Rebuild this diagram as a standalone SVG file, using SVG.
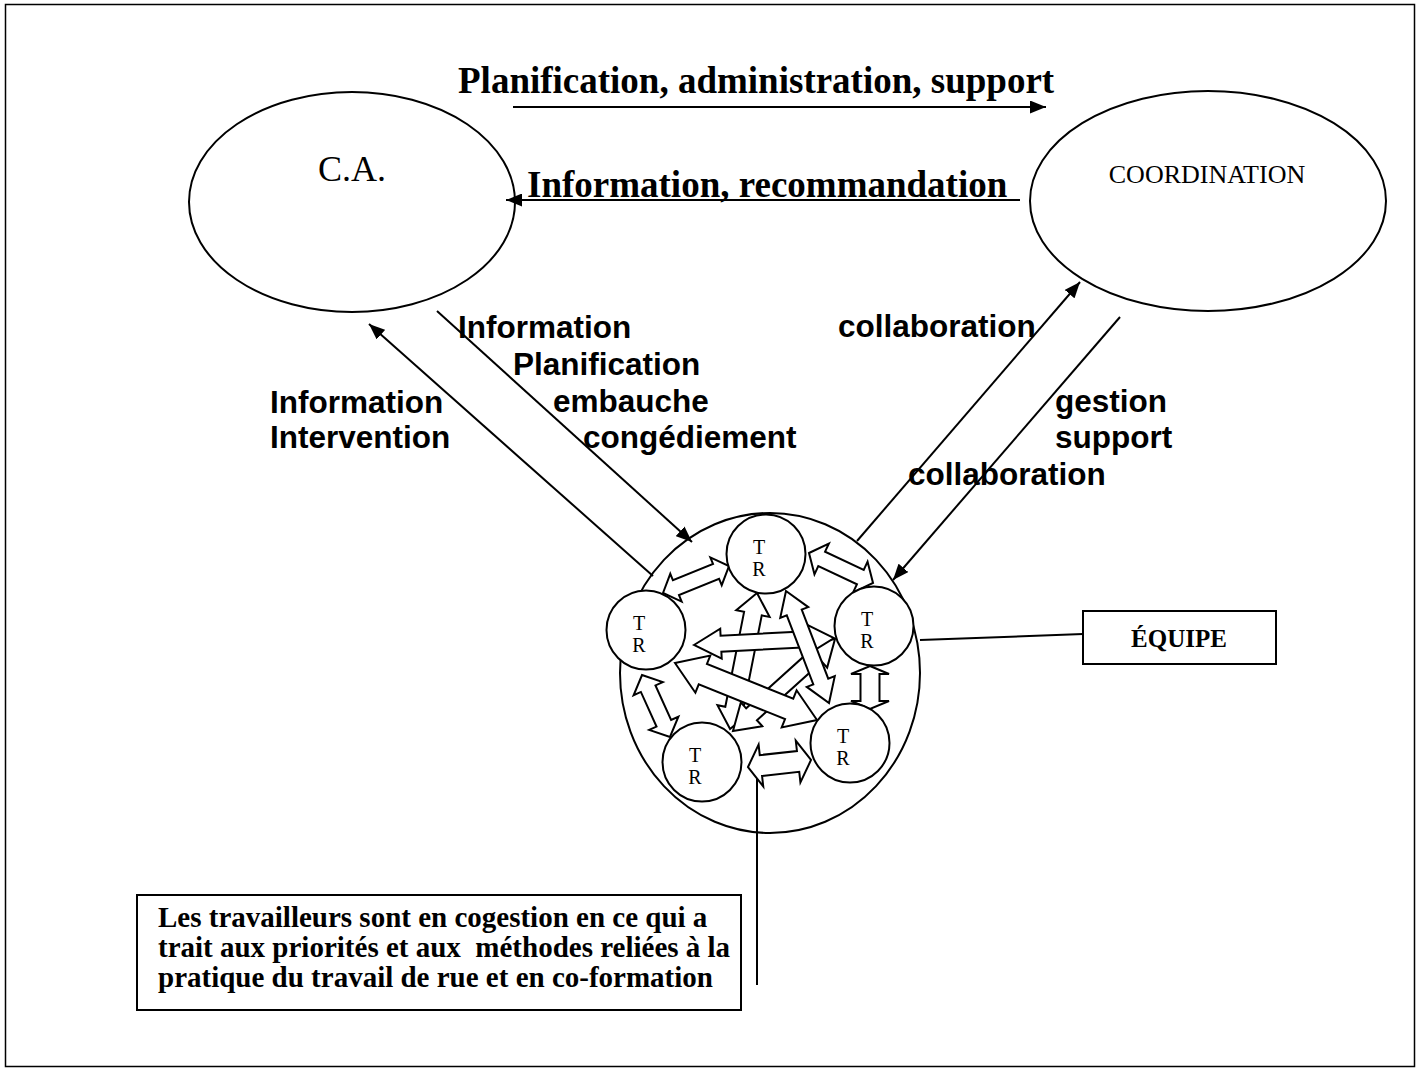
<svg xmlns="http://www.w3.org/2000/svg" width="1420" height="1070" viewBox="0 0 1420 1070">
<defs>
<style>
.ln{stroke:#000;stroke-width:2;fill:none}
.ell{stroke:#000;stroke-width:2;fill:#fff}
.tr{stroke:#000;stroke-width:2;fill:#fff}
.ba{stroke:#000;stroke-width:2;fill:#fff;stroke-linejoin:miter}
.serif{font-family:"Liberation Serif","Times New Roman",serif;fill:#000}
.sans{font-family:"Liberation Sans",Arial,sans-serif;font-weight:bold;fill:#000}
.big{font-size:37px;font-weight:bold}
.lbl{font-size:31.5px}
.trt{font-size:20px;text-anchor:middle}
.note{font-size:29px;font-weight:bold}
</style>
<marker id="ah" markerUnits="userSpaceOnUse" markerWidth="17" markerHeight="13" refX="16" refY="6.5" orient="auto"><path d="M0,0 L16,6.5 L0,13 Z" fill="#000"/></marker>
</defs>
<rect x="0" y="0" width="1420" height="1070" fill="#fff"/>
<rect x="5.5" y="4.5" width="1409" height="1062" fill="none" stroke="#000" stroke-width="1.5"/>

<g id="node-ca">
<ellipse class="ell" cx="352" cy="202" rx="163" ry="110"/>
<text class="serif" x="352" y="181" font-size="36" text-anchor="middle">C.A.</text>
</g>
<g id="node-coordination">
<ellipse class="ell" cx="1208" cy="201" rx="178" ry="110"/>
<text class="serif" x="1207" y="183" font-size="26" text-anchor="middle">COORDINATION</text>
</g>
<g id="node-equipe-circle">
<ellipse class="ell" cx="770" cy="673" rx="150" ry="160"/>
</g>
<g id="node-equipe-label">
<rect x="1083" y="611" width="193" height="53" fill="#fff" stroke="#000" stroke-width="2"/>
<text class="serif" x="1179" y="647" font-size="25" font-weight="bold" text-anchor="middle">ÉQUIPE</text>
</g>
<g id="node-note">
<rect x="137" y="895" width="604" height="115" fill="#fff" stroke="#000" stroke-width="2"/>
<text class="serif note" x="158" y="927">Les travailleurs sont en cogestion en ce qui a</text>
<text class="serif note" x="158" y="957" xml:space="preserve">trait aux priorités et aux  méthodes reliées à la</text>
<text class="serif note" x="158" y="987">pratique du travail de rue et en co-formation</text>
</g>

<g id="connectors">
<line class="ln" x1="513" y1="107" x2="1046" y2="107" marker-end="url(#ah)"/>
<line class="ln" x1="1020" y1="200" x2="506" y2="200" marker-end="url(#ah)"/>
<line class="ln" x1="653" y1="576" x2="369" y2="324" marker-end="url(#ah)"/>
<line class="ln" x1="437" y1="311" x2="692" y2="542" marker-end="url(#ah)"/>
<line class="ln" x1="857" y1="541" x2="1080" y2="282" marker-end="url(#ah)"/>
<line class="ln" x1="1120" y1="317" x2="893" y2="580" marker-end="url(#ah)"/>
<line class="ln" x1="920" y1="640" x2="1083" y2="634"/>
<line class="ln" x1="757" y1="985" x2="757" y2="762"/>
<g id="team-arrows">
<path class="ba" transform="translate(663,593) rotate(-22.25)" d="M0,0 L14,-15 L14,-8 L57.3,-8 L57.3,-15 L71.3,0 L57.3,15 L57.3,8 L14,8 L14,15 Z"/>
<path class="ba" transform="translate(809,553) rotate(25.1)" d="M0,0 L14,-17 L14,-8 L56.7,-8 L56.7,-17 L70.7,0 L56.7,17 L56.7,8 L14,8 L14,17 Z"/>
<path class="ba" transform="translate(870,666) rotate(90)" d="M0,0 L8,-19 L8,-9.5 L35,-9.5 L35,-19 L43,0 L35,19 L35,9.5 L8,9.5 L8,19 Z"/>
<path class="ba" transform="translate(642,675) rotate(65.7)" d="M0,0 L15,-16 L15,-8 L53,-8 L53,-16 L68,0 L53,16 L53,8 L15,8 L15,16 Z"/>
<path class="ba" transform="translate(748,767) rotate(-6.34)" d="M0,0 L13,-21 L13,-10.5 L50.4,-10.5 L50.4,-21 L63.4,0 L50.4,21 L50.4,10.5 L13,10.5 L13,21 Z"/>
<path class="ba" transform="translate(757,593) rotate(101.2)" d="M0,0 L21,-17 L21,-9 L117.7,-9 L117.7,-17 L138.7,0 L117.7,17 L117.7,9 L21,9 L21,17 Z"/>
<path class="ba" transform="translate(835,639) rotate(137.95)" d="M0,0 L25,-16 L25,-8 L112.4,-8 L112.4,-16 L137.4,0 L112.4,16 L112.4,8 L25,8 L25,16 Z"/>
<path class="ba" transform="translate(675,663) rotate(21.87)" d="M0,0 L30,-20 L30,-11 L123,-11 L123,-20 L153,0 L123,20 L123,11 L30,11 L30,20 Z"/>
<path class="ba" transform="translate(694,645) rotate(-2.86)" d="M0,0 L27,-15 L27,-8 L113.2,-8 L113.2,-15 L140.2,0 L113.2,15 L113.2,8 L27,8 L27,15 Z"/>
<path class="ba" transform="translate(786,591) rotate(68.99)" d="M0,0 L23,-15 L23,-8 L97,-8 L97,-15 L120,0 L97,15 L97,8 L23,8 L23,15 Z"/>
</g>
</g>

<g id="node-tr-left">
<circle class="tr" cx="646" cy="630" r="39.5"/>
<text class="serif trt" x="639" y="630">T</text><text class="serif trt" x="639" y="652">R</text>
</g>
<g id="node-tr-top">
<circle class="tr" cx="766" cy="554" r="39.5"/>
<text class="serif trt" x="759" y="554">T</text><text class="serif trt" x="759" y="576">R</text>
</g>
<g id="node-tr-right">
<circle class="tr" cx="874" cy="626" r="39.5"/>
<text class="serif trt" x="867" y="626">T</text><text class="serif trt" x="867" y="648">R</text>
</g>
<g id="node-tr-bottom-left">
<circle class="tr" cx="702" cy="762" r="39.5"/>
<text class="serif trt" x="695" y="762">T</text><text class="serif trt" x="695" y="784">R</text>
</g>
<g id="node-tr-bottom-right">
<circle class="tr" cx="850" cy="743" r="39.5"/>
<text class="serif trt" x="843" y="743">T</text><text class="serif trt" x="843" y="765">R</text>
</g>

<g id="labels">
<text class="serif big" x="458" y="93">Planification, administration, support</text>
<text class="serif big" x="527" y="196.5">Information, recommandation</text>
<text class="sans lbl" x="458" y="338">Information</text>
<text class="sans lbl" x="513" y="375">Planification</text>
<text class="sans lbl" x="553" y="412">embauche</text>
<text class="sans lbl" x="583" y="448">congédiement</text>
<text class="sans lbl" x="270" y="413">Information</text>
<text class="sans lbl" x="270" y="448">Intervention</text>
<text class="sans lbl" x="838" y="337">collaboration</text>
<text class="sans lbl" x="1055" y="412">gestion</text>
<text class="sans lbl" x="1055" y="448">support</text>
<text class="sans lbl" x="908" y="485">collaboration</text>
</g>
</svg>
